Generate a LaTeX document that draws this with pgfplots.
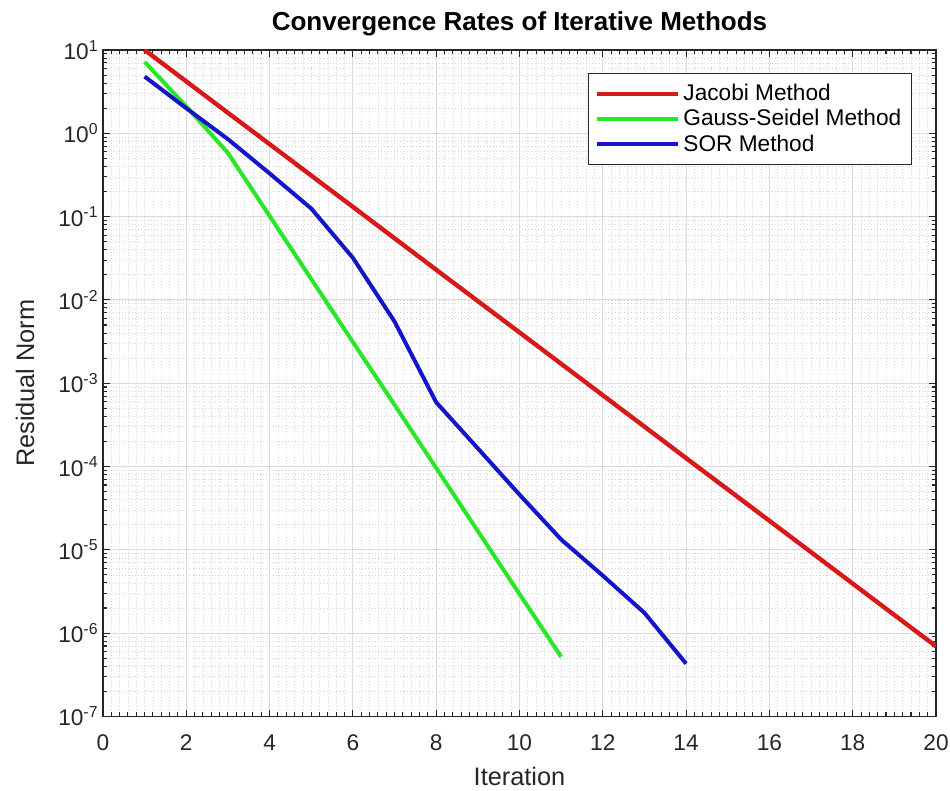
\documentclass[border=0pt]{standalone}
\usepackage{pgfplots}
\pgfplotsset{compat=1.18}
\usepackage{fontspec}
\setmainfont{Liberation Sans}
\definecolor{jac}{RGB}{215,25,25}
\definecolor{gs}{RGB}{40,230,40}
\definecolor{sor}{RGB}{20,20,200}
\definecolor{axgray}{RGB}{38,38,38}

\begin{document}
\begin{tikzpicture}
\begin{axis}[
    scale only axis,
    width=625pt, height=500pt,
    ymode=log,
    xmin=0, xmax=20, ymin=1e-7, ymax=1e1,
    xtick={0,2,...,20},
    ytick={1e-7,1e-6,1e-5,1e-4,1e-3,1e-2,1e-1,1e0,1e1},
    yticklabels={10\textsuperscript{-7},10\textsuperscript{-6},10\textsuperscript{-5},10\textsuperscript{-4},10\textsuperscript{-3},10\textsuperscript{-2},10\textsuperscript{-1},10\textsuperscript{0},10\textsuperscript{1}},
    minor x tick num=9,
    /pgf/number format/assume math mode=true,
    tick label style={font=\fontsize{17}{20}\selectfont, text=axgray},
    xticklabel style={yshift=-10pt},
    tick align=inside,
    major tick length=5pt,
    minor tick length=3pt,
    xminorticks=false,
    axis line style={axgray, line width=1pt},
    tick style={axgray, line width=0.8pt},
    grid=both,
    major grid style={gray!28, line width=0.6pt},
    minor grid style={gray!32, dotted, line width=0.5pt},
    title={\bfseries Convergence Rates of Iterative Methods},
    title style={font=\fontsize{19.5}{22}\selectfont, at={(axis description cs:0.5,1.027)}, anchor=center},
    xlabel={Iteration},
    xlabel style={font=\fontsize{19}{22}\selectfont, text=axgray, at={(axis description cs:0.5,-0.09)}, anchor=center},
    ylabel={Residual Norm},
    ylabel style={font=\fontsize{19}{22}\selectfont, text=axgray, at={(axis description cs:-0.0936,0.5)}, anchor=center},
    legend style={at={(axis description cs:0.971,0.966)}, anchor=north east,
        font=\fontsize{17}{20}\selectfont, draw=axgray, line width=0.8pt,
        inner xsep=5pt, inner ysep=6pt,
        /tikz/every even column/.append style={column sep=2pt},
        nodes={inner sep=2.5pt}},
    legend cell align=left,
    legend image code/.code={\draw[#1, line width=3pt] (0pt,0pt) -- (61pt,0pt);},
]
\addplot[jac, line width=3.3pt] coordinates {
    (1,10) (2,4.2) (3,1.76) (4,0.741) (5,0.311) (6,0.131) (7,0.0549)
    (8,0.0230) (9,9.68e-3) (10,4.07e-3) (11,1.71e-3) (12,7.17e-4)
    (13,3.01e-4) (14,1.26e-4) (15,5.31e-5) (16,2.23e-5) (17,9.37e-6)
    (18,3.93e-6) (19,1.65e-6) (20,6.94e-7)
};
\addlegendentry{Jacobi Method}
\addplot[gs, line width=3pt] coordinates {
    (1,7.2) (2,2.1) (3,0.58) (4,0.102) (5,0.0178) (6,3.12e-3)
    (7,5.5e-4) (8,9.6e-5) (9,1.68e-5) (10,2.95e-6) (11,5.2e-7)
};
\addlegendentry{Gauss-Seidel Method}
\addplot[sor, line width=3pt] coordinates {
    (1,4.8) (2,2.0) (3,0.85) (4,0.33) (5,0.125) (6,0.032) (7,5.5e-3)
    (8,5.9e-4) (9,1.65e-4) (10,4.6e-5) (11,1.33e-5) (12,4.9e-6)
    (13,1.75e-6) (14,4.3e-7)
};
\addlegendentry{SOR Method}
\end{axis}
\pgfresetboundingbox
\path ([xshift=-77.25pt,yshift=-55.5pt]current axis.south west) rectangle ([xshift=10.5pt,yshift=37.5pt]current axis.north east);
\end{tikzpicture}
\end{document}
